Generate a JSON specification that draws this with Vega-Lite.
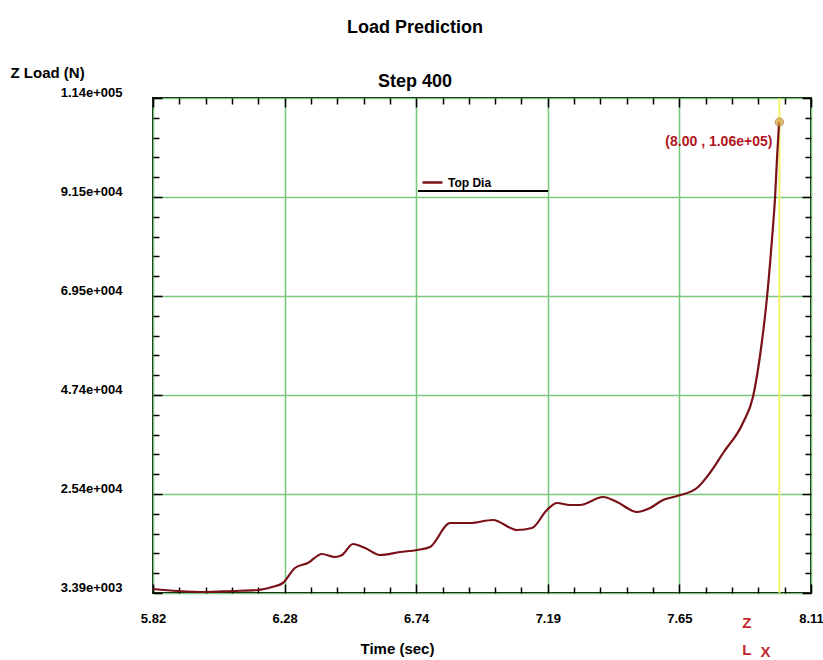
{
  "$schema": "https://vega.github.io/schema/vega-lite/v6.json",
  "width": 658,
  "height": 495,
  "autosize": {"type": "none"},
  "padding": {"left": 153, "top": 98, "right": 12, "bottom": 67},
  "background": "white",
  "config": {
    "font": "Liberation Sans",
    "view": {"stroke": "black", "strokeWidth": 2},
    "axis": {
      "labelFont": "Liberation Sans", "labelFontWeight": "bold", "labelFontSize": 13, "labelColor": "black",
      "titleFont": "Liberation Sans", "titleFontWeight": "bold", "titleFontSize": 15, "titleColor": "black",
      "domain": false, "gridColor": "#7cc77c", "gridWidth": 1.6, "gridOpacity": 1,
      "tickColor": "black", "tickWidth": 1.5
    }
  },
  "title": {
    "text": "Load Prediction", "subtitle": "Step 400",
    "font": "Liberation Sans", "subtitleFont": "Liberation Sans",
    "fontSize": 18, "fontWeight": "bold", "color": "black",
    "subtitleFontSize": 18, "subtitleFontWeight": "bold", "subtitleColor": "black",
    "anchor": "middle", "dx": -67, "offset": -26, "subtitlePadding": 36
  },
  "datasets": {
    "curve": [
      {"t": 5.820, "v": 4284}, {"t": 5.907, "v": 3837}, {"t": 6.001, "v": 3613}, {"t": 6.095, "v": 3837},
      {"t": 6.185, "v": 4060}, {"t": 6.234, "v": 4731}, {"t": 6.272, "v": 5625}, {"t": 6.314, "v": 8976},
      {"t": 6.359, "v": 10094}, {"t": 6.408, "v": 12105}, {"t": 6.453, "v": 11434}, {"t": 6.478, "v": 11881},
      {"t": 6.516, "v": 14339}, {"t": 6.558, "v": 13446}, {"t": 6.610, "v": 11881}, {"t": 6.680, "v": 12552},
      {"t": 6.739, "v": 12999}, {"t": 6.784, "v": 13669}, {"t": 6.854, "v": 19032}, {"t": 6.923, "v": 19032},
      {"t": 7.003, "v": 19702}, {"t": 7.087, "v": 17468}, {"t": 7.139, "v": 17915}, {"t": 7.191, "v": 21937},
      {"t": 7.226, "v": 23501}, {"t": 7.271, "v": 23054}, {"t": 7.306, "v": 23054}, {"t": 7.386, "v": 24842},
      {"t": 7.435, "v": 23725}, {"t": 7.504, "v": 21490}, {"t": 7.550, "v": 22384}, {"t": 7.595, "v": 24171},
      {"t": 7.644, "v": 25065}, {"t": 7.713, "v": 26853}, {"t": 7.758, "v": 30205}, {"t": 7.804, "v": 34674},
      {"t": 7.873, "v": 41377}, {"t": 7.908, "v": 47187}, {"t": 7.932, "v": 56125}, {"t": 7.957, "v": 69532},
      {"t": 7.974, "v": 82270}, {"t": 7.985, "v": 91877}, {"t": 7.992, "v": 100816}, {"t": 7.999, "v": 108636}
    ],
    "cursor": [{"t": 8.0}],
    "probe": [{"t": 8.0, "v": 108600, "label": "(8.00 , 1.06e+05)"}],
    "underline": [{"t1": 6.742, "t2": 7.195, "v": 93200}],
    "icon": [
      {"t": 7.887, "v": -3300, "s": "Z"},
      {"t": 7.887, "v": -9300, "s": "L"},
      {"t": 7.952, "v": -9800, "s": "X"}
    ]
  },
  "layer": [
    {
      "data": {"name": "cursor"},
      "mark": {"type": "rule", "color": "#f3f36a", "strokeWidth": 2},
      "encoding": {
        "x": {"field": "t", "type": "quantitative", "scale": {"domain": [5.82, 8.11], "nice": false, "zero": false}, "axis": null}
      }
    },
    {
      "data": {"name": "curve"},
      "mark": {"type": "line", "strokeWidth": 2.2, "interpolate": "monotone"},
      "encoding": {
        "x": {"field": "t", "type": "quantitative", "scale": {"domain": [5.82, 8.11], "nice": false, "zero": false},
          "axis": {"orient": "bottom", "values": [5.82, 6.278, 6.736, 7.194, 7.652, 8.11], "format": ".2f",
            "ticks": false, "grid": false, "labelPadding": 19, "labelFlush": false,
            "title": "Time (sec)", "titleX": 244, "titleY": 60, "titleAlign": "center", "titleBaseline": "alphabetic"}},
        "y": {"field": "v", "type": "quantitative", "scale": {"domain": [3390, 114000], "nice": false, "zero": false},
          "axis": {"orient": "left", "offset": 29, "values": [3390, 25512, 47634, 69756, 91878, 114000],
            "labelExpr": "datum.value < 10000 ? '3.39e+003' : datum.value < 30000 ? '2.54e+004' : datum.value < 50000 ? '4.74e+004' : datum.value < 75000 ? '6.95e+004' : datum.value < 100000 ? '9.15e+004' : '1.14e+005'",
            "ticks": false, "grid": false, "labelBaseline": "bottom", "labelOffset": 1, "labelFlush": false,
            "title": "Z Load (N)", "titleAngle": 0, "titleX": -114, "titleY": -21, "titleAlign": "left", "titleBaseline": "alphabetic"}},
        "color": {"datum": "Top Dia", "type": "nominal", "scale": {"range": ["#7a1018"]},
          "legend": {"orient": "none", "legendX": 268, "legendY": 73, "title": null, "symbolType": "stroke",
            "symbolSize": 400, "symbolStrokeWidth": 2.5, "labelFontSize": 12, "labelFontWeight": "bold",
            "labelColor": "black", "labelFont": "Liberation Sans"}}
      }
    },
    {
      "data": {"name": "probe"},
      "mark": {"type": "point", "filled": true, "shape": "circle", "size": 70, "color": "#d9a03a", "stroke": "#9a6a20", "strokeWidth": 1},
      "encoding": {
        "x": {"field": "t", "type": "quantitative", "scale": {"domain": [5.82, 8.11], "nice": false, "zero": false},
          "axis": {"orient": "bottom", "values": [5.82, 6.278, 6.736, 7.194, 7.652, 8.11], "labels": false, "grid": true, "ticks": true, "tickSize": -9, "title": null}},
        "y": {"field": "v", "type": "quantitative", "scale": {"domain": [3390, 114000], "nice": false, "zero": false},
          "axis": {"orient": "left", "values": [3390, 25512, 47634, 69756, 91878, 114000], "labels": false, "grid": true, "ticks": true, "tickSize": -9, "title": null}}
      }
    },
    {
      "data": {"name": "probe"},
      "mark": {"type": "text", "align": "right", "baseline": "middle", "dx": -7, "dy": 20, "color": "#b01520", "fontSize": 14, "fontWeight": "bold", "font": "Liberation Sans"},
      "encoding": {
        "x": {"field": "t", "type": "quantitative", "scale": {"domain": [5.82, 8.11], "nice": false, "zero": false},
          "axis": {"orient": "bottom", "values": [5.9116, 6.0032, 6.0948, 6.1864, 6.3696, 6.4612, 6.5528, 6.6444, 6.8276, 6.9192, 7.0108, 7.1024, 7.2856, 7.3772, 7.4688, 7.5604, 7.7436, 7.8352, 7.9268, 8.0184], "labels": false, "grid": false, "ticks": true, "tickSize": -6, "title": null}},
        "y": {"field": "v", "type": "quantitative", "scale": {"domain": [3390, 114000], "nice": false, "zero": false},
          "axis": {"orient": "left", "values": [7814.4, 12238.8, 16663.2, 21087.6, 29936.4, 34360.8, 38785.2, 43209.6, 52058.4, 56482.8, 60907.2, 65331.6, 74180.4, 78604.8, 83029.2, 87453.6, 96302.4, 100726.8, 105151.2, 109575.6], "labels": false, "grid": false, "ticks": true, "tickSize": -6, "title": null}},
        "text": {"field": "label"}
      }
    },
    {
      "data": {"name": "underline"},
      "mark": {"type": "rule", "color": "black", "strokeWidth": 2},
      "encoding": {
        "x": {"field": "t1", "type": "quantitative", "scale": {"domain": [5.82, 8.11], "nice": false, "zero": false},
          "axis": {"orient": "top", "values": [5.82, 6.278, 6.736, 7.194, 7.652, 8.11], "labels": false, "grid": false, "ticks": true, "tickSize": -9, "title": null}},
        "x2": {"field": "t2"},
        "y": {"field": "v", "type": "quantitative", "scale": {"domain": [3390, 114000], "nice": false, "zero": false},
          "axis": {"orient": "right", "values": [3390, 25512, 47634, 69756, 91878, 114000], "labels": false, "grid": false, "ticks": true, "tickSize": -9, "title": null}}
      }
    },
    {
      "data": {"name": "icon"},
      "mark": {"type": "text", "clip": false, "color": "#c0282d", "fontSize": 15, "fontWeight": "bold", "font": "Liberation Sans", "baseline": "middle", "align": "center"},
      "encoding": {
        "x": {"field": "t", "type": "quantitative", "scale": {"domain": [5.82, 8.11], "nice": false, "zero": false},
          "axis": {"orient": "top", "values": [5.9116, 6.0032, 6.0948, 6.1864, 6.3696, 6.4612, 6.5528, 6.6444, 6.8276, 6.9192, 7.0108, 7.1024, 7.2856, 7.3772, 7.4688, 7.5604, 7.7436, 7.8352, 7.9268, 8.0184], "labels": false, "grid": false, "ticks": true, "tickSize": -6, "title": null}},
        "y": {"field": "v", "type": "quantitative", "scale": {"domain": [3390, 114000], "nice": false, "zero": false},
          "axis": {"orient": "right", "values": [7814.4, 12238.8, 16663.2, 21087.6, 29936.4, 34360.8, 38785.2, 43209.6, 52058.4, 56482.8, 60907.2, 65331.6, 74180.4, 78604.8, 83029.2, 87453.6, 96302.4, 100726.8, 105151.2, 109575.6], "labels": false, "grid": false, "ticks": true, "tickSize": -6, "title": null}},
        "text": {"field": "s"}
      }
    }
  ],
  "resolve": {"axis": {"x": "independent", "y": "independent"}}
}
